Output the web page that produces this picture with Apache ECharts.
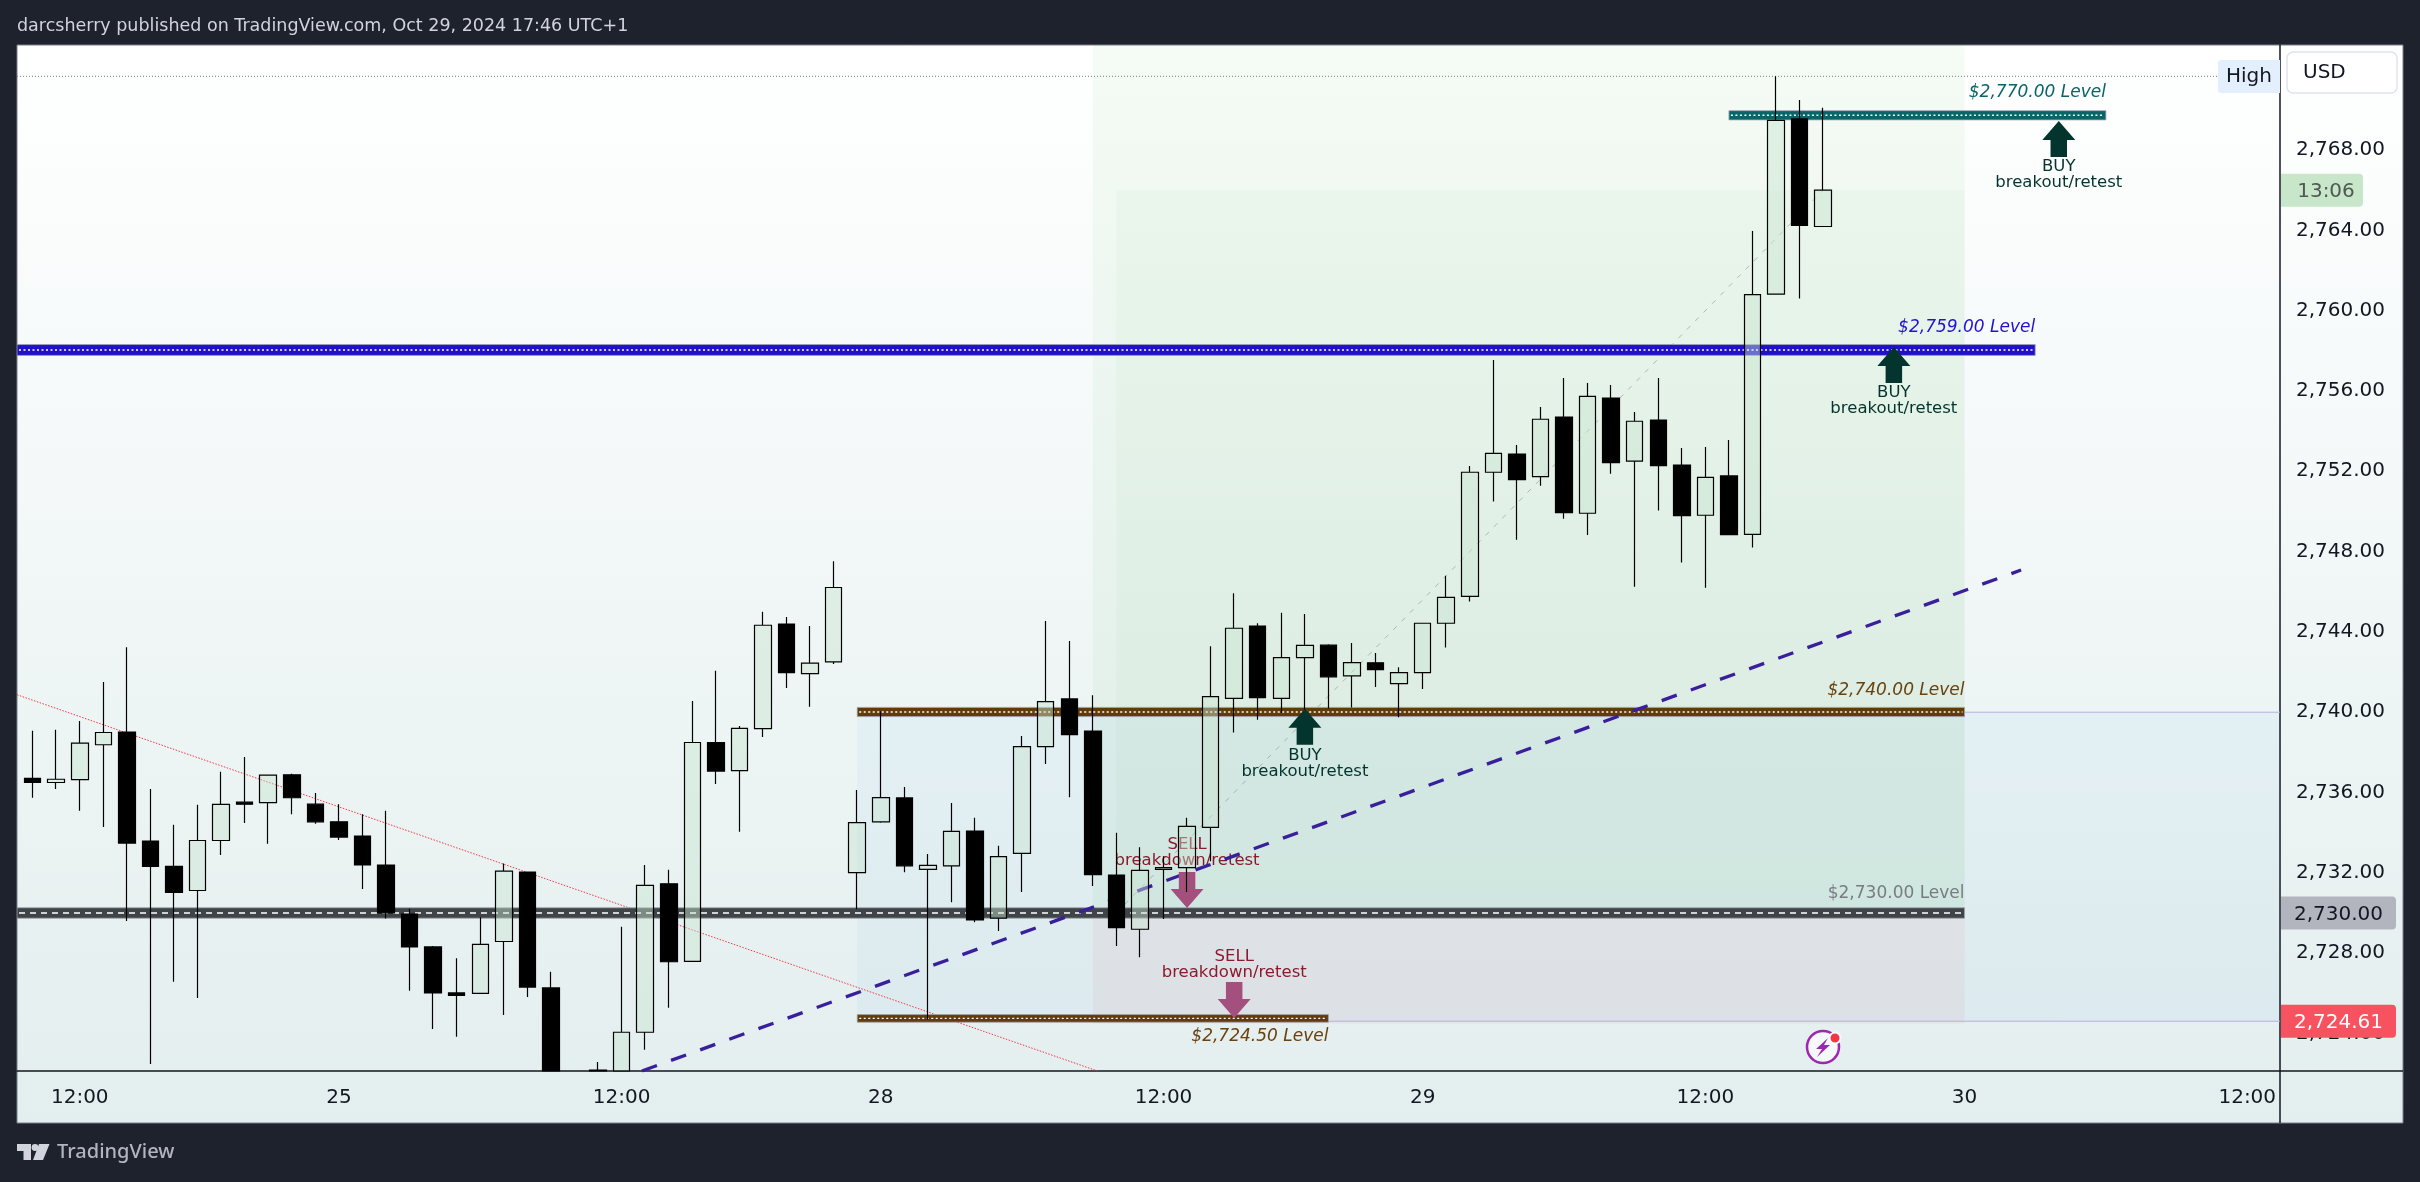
<!DOCTYPE html>
<html><head><meta charset="utf-8">
<style>html,body{margin:0;padding:0;background:#1e222d;width:2420px;height:1182px;overflow:hidden}#c{width:2420px;height:1182px}</style>
<script src="https://cdn.jsdelivr.net/npm/echarts@6/dist/echarts.min.js"></script>
</head><body><div id="c"></div>
<script>
// ---- data ----
const open  = [2736.70,2736.50,2736.64,2738.38,2739.01,2733.58,2732.32,2731.12,2733.61,2735.52,2735.50,2736.88,2735.42,2734.54,2733.83,2732.39,2729.95,2728.31,2726.02,2726.00,2728.58,2732.04,2726.27,2721.20,2722.17,2722.13,2724.06,2731.45,2727.59,2738.49,2737.09,2739.18,2744.39,2741.92,2742.51,2732.01,2734.54,2735.73,2732.17,2732.35,2734.08,2729.74,2732.97,2738.29,2740.66,2739.06,2731.89,2729.19,2732.17,2732.26,2734.26,2740.69,2744.29,2740.69,2742.72,2743.34,2741.81,2742.46,2741.42,2741.97,2744.43,2745.77,2751.95,2752.86,2751.73,2754.70,2749.91,2755.65,2752.50,2754.55,2752.31,2749.81,2751.77,2748.86,2760.82,2769.55,2764.19];
const close = [2736.50,2736.66,2738.46,2738.99,2733.48,2732.32,2731.02,2733.61,2735.41,2735.42,2736.87,2735.74,2734.54,2733.78,2732.39,2730.01,2728.31,2726.02,2725.89,2728.44,2732.08,2726.31,2722.13,2720.40,2722.13,2724.06,2731.38,2727.57,2738.49,2737.07,2739.19,2744.33,2741.97,2742.44,2746.21,2734.50,2735.75,2732.35,2732.37,2734.06,2729.65,2732.81,2738.29,2740.53,2738.88,2731.91,2729.27,2732.12,2732.26,2734.31,2740.78,2744.18,2740.73,2742.72,2743.33,2741.76,2742.47,2742.12,2741.97,2744.43,2745.72,2751.95,2752.89,2751.58,2754.59,2749.94,2755.73,2752.43,2754.49,2752.28,2749.79,2751.70,2748.84,2760.80,2769.48,2764.24,2766.00];
const low   = [2735.74,2736.18,2735.09,2734.28,2729.60,2722.48,2726.57,2725.77,2732.89,2734.48,2733.45,2734.92,2734.44,2733.63,2731.19,2729.73,2726.13,2724.22,2723.83,2726.00,2724.92,2725.81,2722.13,2720.00,2722.13,2722.13,2723.19,2725.28,2727.59,2736.42,2734.04,2738.77,2741.21,2740.27,2742.40,2730.18,2734.49,2732.03,2724.70,2730.54,2729.54,2729.10,2731.04,2737.42,2735.77,2731.34,2728.35,2727.80,2729.70,2731.04,2732.58,2738.99,2739.63,2739.96,2740.14,2740.18,2740.23,2741.25,2739.75,2741.16,2743.22,2745.51,2750.49,2748.59,2751.28,2749.64,2748.83,2751.88,2746.25,2750.04,2747.45,2746.20,2748.84,2748.20,2760.82,2760.60,2764.19];
const high  = [2739.07,2739.12,2739.56,2741.50,2743.24,2736.18,2734.39,2735.39,2737.03,2737.77,2736.87,2736.94,2735.98,2735.42,2734.92,2735.09,2730.21,2728.36,2727.75,2729.79,2732.47,2732.04,2727.07,2721.80,2722.58,2729.31,2732.39,2732.15,2740.56,2742.06,2739.31,2745.00,2744.74,2744.29,2747.52,2736.12,2740.05,2736.27,2732.94,2735.48,2734.74,2733.35,2738.81,2744.54,2743.54,2740.85,2733.99,2733.28,2732.83,2734.74,2743.29,2745.92,2744.43,2744.95,2744.89,2743.38,2743.45,2742.95,2742.24,2744.43,2746.79,2752.26,2757.54,2753.31,2755.20,2756.65,2756.40,2756.30,2754.95,2756.65,2753.16,2753.21,2753.56,2763.97,2771.67,2770.49,2770.10];

const xMin = -0.664, xMax = 95.39, yMin = 2722.13, yMax = 2773.23;
const priceTicks = [2724,2728,2732,2736,2740,2744,2748,2752,2756,2760,2764,2768];
const timeTickBars = [2,13,25,36,48,59,71,82,94];
const timeTickLabels = ['12:00','25','12:00','28','12:00','29','12:00','30','12:00'];
const titleText = 'darcsherry published on TradingView.com, Oct 29, 2024 17:46 UTC+1';

// zones: [fromBar, toBar, fromPrice, toPrice]
const blueZone  = [35, xMax, 2724.61, 2740];
const greenZone = [45, 82, 2730, yMax];
const greenZone2= [46, 82, 2730, 2766];
const pinkZone  = [45, 82, 2724.5, 2730];
// level bars: [fromBar, toBar, price, halfThickness]
const tealLevel  = [72, 88, 2769.73, 0.23];
const blueLevel  = [xMin, 85, 2758.04, 0.27];
const brownLevel = [35, 82, 2740.01, 0.23];
const grayLevel  = [xMin, 82, 2730.0, 0.26];
const brownLevel2= [35, 55, 2724.75, 0.19];
// thin lines
const risingTrend  = [[25.86,2722.13],[84.4,2747.08]];
const fallingTrend = [[-0.664,2740.87],[45.2,2722.13]];
const tradeDiagonal= [[46,2730],[76,2766]];
const highLine = [[xMin,2771.67],[93.5,2771.67]];
const upperEdge = [[82,2740],[xMax,2740]];
const lowerEdge = [[55,2724.61],[xMax,2724.61]];
// arrows and captions
const buyArrows  = [[86,2768.55],[79,2757.29],[54,2739.27]];
const sellArrows = [[49,2731.15],[51,2725.67]];
const buyNotes   = [[86,2766.75],[79,2755.50],[54,2737.42]];
const sellNotes  = [[49,2732.99],[51,2727.44]];
const buyNoteText  = 'BUY\nbreakout/retest';
const sellNoteText = 'SELL\nbreakdown/retest';
const levelNotes = [[88,2770.84,'$2,770.00 Level'],[85,2759.14,'$2,759.00 Level'],[82,2741.07,'$2,740.00 Level'],[82,2730.95,'$2,730.00 Level'],[55,2723.84,'$2,724.50 Level']];
const levelNoteColors = ['#0b6468','#2412d4','#6a420f','#787c80','#6a420f'];
const levelNoteItalic = [true,true,true,false,true];
// price tags on the axis
const priceTags = [[2766.0,'13:06'],[2730.0,'2,730.00'],[2724.61,'2,724.61']];
const tagStyle = [{bg:'#c8e6c9',fg:'#4f5a52',w:82,dx:4},{bg:'#b2b5be',fg:'#131722',w:115,dx:0},{bg:'#f7525f',fg:'#ffffff',w:115,dx:0}];

const FONT = '"DejaVu Sans"';
const fmt = v => v.toLocaleString('en-US',{minimumFractionDigits:2,maximumFractionDigits:2});
const up='M8 0L16 10L12 10L12 19L4 19L4 10L0 10Z', dn='M4 0L12 0L12 9L16 9L8 19L0 9L4 9Z';

function rectSeries(items, z, styleFn){
  return {type:'custom',coordinateSystem:'cartesian2d',z,clip:true,silent:true,animation:false,
    encode:{x:[0,1],y:[2,3]},data:items,
    renderItem(p,api){
      const i=p.dataIndex;
      const a=api.coord([api.value(0),api.value(3)]),b=api.coord([api.value(1),api.value(2)]);
      return {type:'rect',shape:{x:a[0],y:a[1],width:b[0]-a[0],height:b[1]-a[1]},style:styleFn(i)};
    }};
}
const zoneColors=['rgba(33,150,243,0.05)','rgba(76,175,80,0.055)','rgba(76,175,80,0.04)','rgba(242,54,69,0.055)'];
const levels=[tealLevel,blueLevel,brownLevel,grayLevel,brownLevel2];
const levelFill=['#0b6468','#2010c8','#613c0a','#3f4448','#613c0a'];
const levelDash=[[2,2.5],[2,2.5],[2,2.5],[6,5],[2,2.5]];
function levelSeries(){
  return {type:'custom',coordinateSystem:'cartesian2d',z:3,clip:true,silent:true,animation:false,
    encode:{x:[0,1],y:2},data:levels,
    renderItem(p,api){
      const i=p.dataIndex;
      const h=levels[i][3];
      const a=api.coord([api.value(0),api.value(2)+h]),b=api.coord([api.value(1),api.value(2)-h]),m=api.coord([api.value(0),api.value(2)]);
      return {type:'group',children:[
        {type:'rect',shape:{x:a[0],y:a[1],width:b[0]-a[0],height:b[1]-a[1]},style:{fill:levelFill[i],stroke:'rgba(160,165,175,0.8)',lineWidth:1}},
        {type:'line',shape:{x1:a[0]+2,y1:m[1],x2:b[0]-2,y2:m[1]},style:{stroke:'#fff',lineWidth:1.3,lineDash:levelDash[i]}}
      ]};
    }};
}
function lineS(data,color,width,dash,z){
  return {type:'line',data,symbol:'none',silent:true,animation:false,z,clip:true,lineStyle:{color,width,type:dash}};
}
function arrowS(data,path,color){
  return {type:'scatter',data,symbol:'path://'+path,symbolSize:[33,36],itemStyle:{color,opacity:1},z:4,silent:true,animation:false};
}
function noteS(data,text,color){
  return {type:'custom',coordinateSystem:'cartesian2d',z:3,silent:true,animation:false,encode:{x:0,y:1},data,
    renderItem(p,api){
      const c=api.coord([api.value(0),api.value(1)]);
      return {type:'text',x:c[0],y:c[1],style:{text,fill:color,font:'16.5px '+FONT,align:'center',verticalAlign:'middle',lineHeight:16}};
    }};
}
const levelNoteS={type:'custom',coordinateSystem:'cartesian2d',z:3,silent:true,animation:false,encode:{x:0,y:1},
  data:levelNotes.map(r=>[r[0],r[1]]),
  renderItem(p,api){
    const i=p.dataIndex,c=api.coord([api.value(0),api.value(1)]);
    return {type:'text',x:c[0],y:c[1],style:{text:levelNotes[i][2],fill:levelNoteColors[i],font:(levelNoteItalic[i]?'italic ':'')+'17px '+FONT,align:'right',verticalAlign:'middle'}};
  }};
const tagS={type:'custom',coordinateSystem:'cartesian2d',z:8,silent:true,animation:false,clip:false,encode:{y:0},
  data:priceTags.map(r=>[r[0]]),
  renderItem(p,api){
    const i=p.dataIndex,s=tagStyle[i];
    const r=p.coordSys.x+p.coordSys.width;
    const y=api.coord([xMin,api.value(0)])[1];
    return {type:'group',children:[
      {type:'rect',shape:{x:r+1,y:y-16.5,width:s.w,height:33,r:[0,4,4,0]},style:{fill:s.bg}},
      {type:'text',x:r+1+s.w/2+s.dx,y:y+1.5,style:{text:priceTags[i][1],fill:s.fg,font:'20px '+FONT,align:'center',verticalAlign:'middle'}}
    ]};
  }};

const option={
  animation:false,
  backgroundColor:'#1e222d',
  textStyle:{fontFamily:FONT},
  grid:{left:17,top:45,width:2263,height:1026,containLabel:false},
  xAxis:{type:'value',min:xMin,max:xMax,splitLine:{show:false},
    axisLine:{show:true,onZero:false,lineStyle:{color:'#131722',width:1.5}},
    axisTick:{show:false},
    axisLabel:{customValues:timeTickBars,margin:17,color:'#131722',fontSize:20,fontFamily:FONT,hideOverlap:false,
      formatter:v=>timeTickLabels[timeTickBars.indexOf(Math.round(v))]||''}},
  yAxis:{type:'value',position:'right',min:yMin,max:yMax,splitLine:{show:false},
    axisLine:{show:true,onZero:false,lineStyle:{color:'#131722',width:1.5}},
    axisTick:{show:false},
    axisLabel:{customValues:priceTicks,margin:16,padding:[4,0,0,0],color:'#131722',fontSize:20,fontFamily:FONT,hideOverlap:false,formatter:fmt}},
  graphic:{elements:[
    {type:'rect',z:-10,silent:true,shape:{x:17,y:45,width:2386,height:1078},
      style:{fill:new echarts.graphic.LinearGradient(0,0,0,1,[{offset:0,color:'#ffffff'},{offset:1,color:'#e3eeee'}]),stroke:'#7b7e88',lineWidth:1}},
    {type:'line',z:1,silent:true,shape:{x1:2280,y1:1071,x2:2280,y2:1123},style:{stroke:'#131722',lineWidth:1.5}},
    {type:'line',z:1,silent:true,shape:{x1:2280,y1:1071,x2:2403,y2:1071},style:{stroke:'#131722',lineWidth:1.5}},
    {type:'text',z:10,x:17,y:26,style:{text:titleText,fill:'#d1d4dc',font:'17.5px '+FONT,verticalAlign:'middle'}},
    {type:'rect',z:10,silent:true,shape:{x:2218,y:60,width:62,height:33,r:[3,0,0,3]},style:{fill:'#e3effd'}},
    {type:'text',z:11,x:2249,y:77,style:{text:'High',fill:'#131722',font:'20px '+FONT,align:'center',verticalAlign:'middle'}},
    {type:'rect',z:10,silent:true,shape:{x:2287,y:52,width:110,height:41,r:6},style:{fill:'#ffffff',stroke:'#e0e3eb',lineWidth:1.5}},
    {type:'text',z:11,x:2303,y:73,style:{text:'USD',fill:'#131722',font:'20px '+FONT,verticalAlign:'middle'}},
    // TradingView logo
    {type:'polygon',z:10,silent:true,shape:{points:[[17,1144],[31,1144],[31,1160],[23.5,1160],[23.5,1151],[17,1151]]},style:{fill:'#d1d4dc'}},
    {type:'circle',z:10,silent:true,shape:{cx:35,cy:1147.5,r:3.4},style:{fill:'#d1d4dc'}},
    {type:'polygon',z:10,silent:true,shape:{points:[[39,1144],[49.5,1144],[43,1160],[33,1160]]},style:{fill:'#d1d4dc'}},
    {type:'text',z:10,x:57,y:1152,style:{text:'TradingView',fill:'#b2b5be',font:'500 20px "Noto Sans"',verticalAlign:'middle'}},
    // snapshot mark
    {type:'circle',z:9,silent:true,shape:{cx:1823,cy:1047,r:16},style:{fill:'rgba(255,255,255,0.6)',stroke:'#9c27b0',lineWidth:2.5}},
    {type:'polygon',z:9,silent:true,shape:{points:[[1828,1038],[1816,1049],[1822,1049],[1817,1057],[1830,1045],[1824,1045]]},style:{fill:'#9c27b0'}},
    {type:'circle',z:9,silent:true,shape:{cx:1835,cy:1038,r:5.5},style:{fill:'#f23645',stroke:'#ffffff',lineWidth:2}}
  ]},
  series:[
    rectSeries([blueZone],1,()=>({fill:zoneColors[0]})),
    rectSeries([greenZone],1,()=>({fill:zoneColors[1]})),
    rectSeries([greenZone2],1,()=>({fill:zoneColors[2]})),
    rectSeries([pinkZone],1,()=>({fill:zoneColors[3]})),
    lineS(highLine,'#787b86',1,[1,2],2),
    lineS(upperEdge,'#b8b0e0',1,'solid',2),
    lineS(lowerEdge,'#b8b0e0',1,'solid',2),
    lineS(tradeDiagonal,'rgba(120,123,134,0.5)',1,[5,7],2),
    lineS(fallingTrend,'#f23645',1,[1.5,1.5],2),
    lineS(risingTrend,'#3a1f9c',3.3,[16,15],3),
    levelSeries(),
    noteS(buyNotes,buyNoteText,'#03342e'),
    noteS(sellNotes,sellNoteText,'#8a1a2e'),
    levelNoteS,
    arrowS(buyArrows,up,'#03342e'),
    arrowS(sellArrows,dn,'#a3507f'),
    {type:'candlestick',z:5,silent:true,barWidth:17,animation:false,
      data:open.map((o,i)=>[i,o,close[i],low[i],high[i]]),
      itemStyle:{color:'rgba(200,228,208,0.45)',color0:'#000000',borderColor:'#000000',borderColor0:'#000000',borderWidth:1.2}},
    tagS
  ]
};
const chart=echarts.init(document.getElementById('c'),null,{renderer:'canvas',width:2420,height:1182});
chart.setOption(option);
</script>
</body></html>
